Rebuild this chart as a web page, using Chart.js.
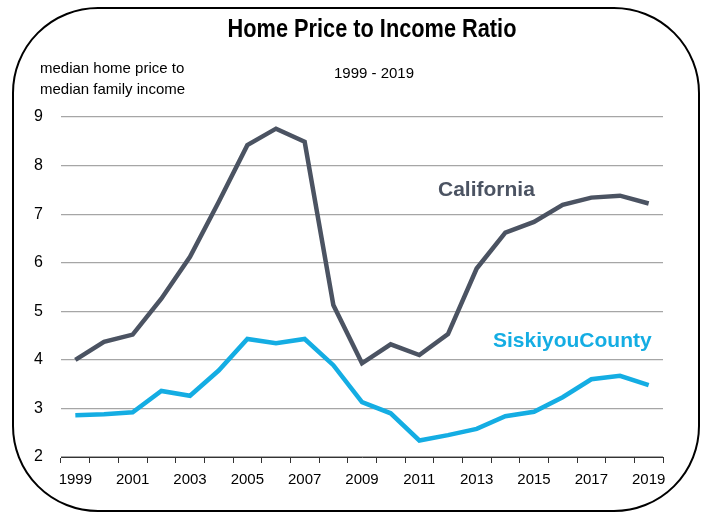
<!DOCTYPE html>
<html>
<head>
<meta charset="utf-8">
<script src="https://cdn.jsdelivr.net/npm/chart.js@4"></script>
<style>
  html, body { margin: 0; padding: 0; background: #fff; }
  #wrap { width: 708px; height: 513px; position: relative; }
</style>
</head>
<body>
<div id="wrap"><canvas id="myChart" width="708" height="513"></canvas></div>
<script>
const years = ["1999","2000","2001","2002","2003","2004","2005","2006","2007","2008","2009",
  "2010","2011","2012","2013","2014","2015","2016","2017","2018","2019"];
const california = [4.0, 4.37, 4.52, 5.26, 6.12, 7.25, 8.42, 8.76, 8.49, 5.13, 3.93,
  4.32, 4.10, 4.53, 5.88, 6.62, 6.84, 7.19, 7.34, 7.38, 7.22];
const siskiyou = [2.86, 2.88, 2.92, 3.36, 3.26, 3.78, 4.43, 4.34, 4.43, 3.89, 3.13,
  2.90, 2.34, 2.45, 2.58, 2.84, 2.93, 3.23, 3.60, 3.67, 3.48];
const yTicks = [2, 3, 4, 5, 6, 7, 8, 9];

const caColor = "#4b5362";
const skColor = "#14ade3";
const sans = '"Liberation Sans", Arial, sans-serif';

// text squeezed a little, the original uses a narrow face
function narrowText(c, txt, x, y, sx) {
  c.save();
  c.translate(x, y);
  c.scale(sx, 1);
  c.fillText(txt, 0, 0);
  c.restore();
}

const decor = {
  id: "decor",
  beforeDraw(chart) {
    const c = chart.ctx;
    c.save();
    c.strokeStyle = "#000";
    c.lineWidth = 2;
    c.beginPath();
    c.roundRect(13, 8, 686, 503, 85);
    c.stroke();
    c.restore();
  },
  afterDraw(chart) {
    const c = chart.ctx;
    c.save();
    c.fillStyle = "#000";
    c.textBaseline = "middle";
    c.textAlign = "center";
    c.font = "bold 25px " + sans;
    narrowText(c, "Home Price to Income Ratio", 372, 30, 0.87);
    c.font = "15px " + sans;
    c.fillText("1999 - 2019", 374, 74);
    c.textAlign = "left";
    c.fillText("median home price to", 40, 69);
    c.fillText("median family income", 40, 90);
    c.font = "bold 21px " + sans;
    c.fillStyle = caColor;
    c.fillText("California", 438, 190);
    c.fillStyle = skColor;
    c.fillText("SiskiyouCounty", 493, 341);
    c.restore();
  }
};

new Chart(document.getElementById("myChart"), {
  type: "line",
  data: {
    labels: years,
    datasets: [
      { label: "California", data: california, borderColor: caColor, borderWidth: 4.5,
        pointRadius: 0, tension: 0, borderJoinStyle: "miter" },
      { label: "SiskiyouCounty", data: siskiyou, borderColor: skColor, borderWidth: 4.5,
        pointRadius: 0, tension: 0, borderJoinStyle: "miter" }
    ]
  },
  options: {
    responsive: false,
    animation: false,
    layout: { padding: { top: 117, right: 45, bottom: 0, left: 0 } },
    plugins: { legend: { display: false }, tooltip: { enabled: false } },
    scales: {
      x: {
        offset: true,
        afterFit(scale) { scale.height = 56; },
        grid: { offset: true, drawOnChartArea: false, color: "#333", tickLength: 6 },
        border: { color: "#333", width: 1 },
        ticks: {
          autoSkip: false, maxRotation: 0, color: "#000", padding: 8,
          font: { family: sans, size: 15 },
          callback(v, i) { return i % 2 === 0 ? years[i] : ""; }
        }
      },
      y: {
        min: 2, max: 9,
        afterFit(scale) { scale.width = 61; },
        afterBuildTicks(scale) { scale.ticks = yTicks.map(v => ({ value: v })); },
        grid: { color: "#a6a6a6", lineWidth: 1.2, drawTicks: false },
        border: { display: false },
        ticks: { color: "#000", padding: 18, font: { family: sans, size: 16 } }
      }
    }
  },
  plugins: [decor]
});
</script>
</body>
</html>
